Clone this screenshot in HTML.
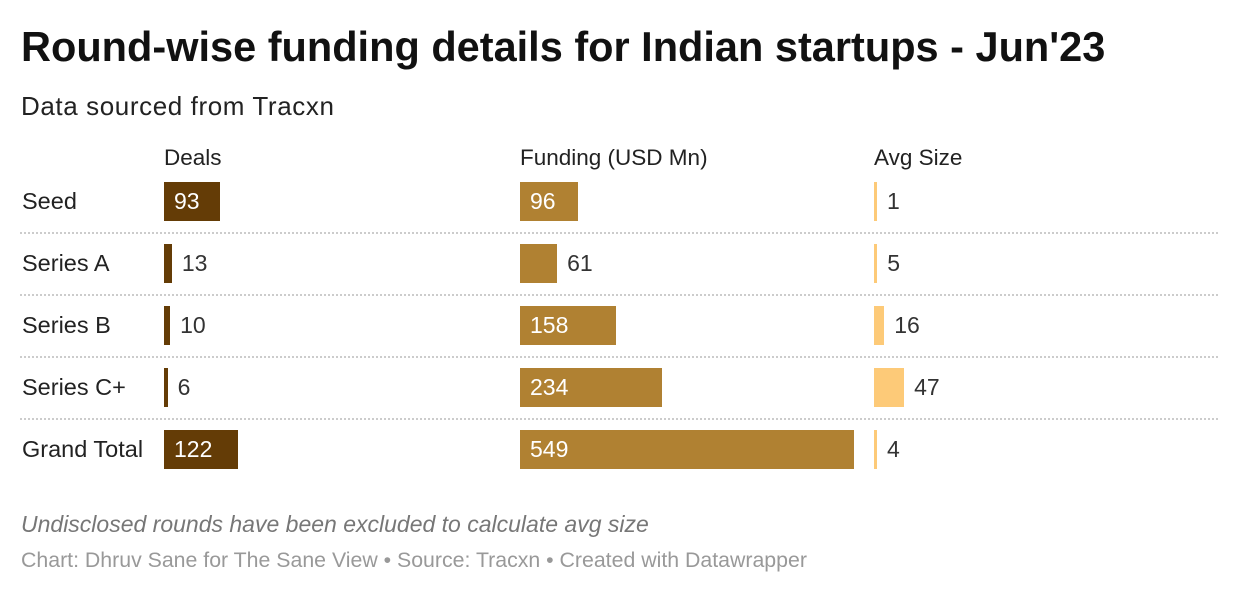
<!DOCTYPE html>
<html><head><meta charset="utf-8"><style>
body{margin:0;width:1240px;height:594px;background:#fff;font-family:"Liberation Sans",sans-serif;overflow:hidden;position:relative}
.t{position:absolute;white-space:nowrap}
</style></head><body>
<div class="t" style="left:21px;top:23px;font-size:41.5px;font-weight:bold;color:#111">Round-wise funding details for Indian startups - Jun'23</div>
<div class="t" style="left:21px;top:91px;font-size:26px;letter-spacing:0.6px;color:#222">Data sourced from Tracxn</div>
<div class="t" style="left:164px;top:145px;font-size:22.5px;color:#222">Deals</div>
<div class="t" style="left:520px;top:145px;font-size:22.5px;color:#222">Funding (USD Mn)</div>
<div class="t" style="left:874px;top:145px;font-size:22.5px;color:#222">Avg Size</div>
<div id="rows"></div>
<div class="t" style="left:21px;top:511px;font-size:23px;font-style:italic;color:#777">Undisclosed rounds have been excluded to calculate avg size</div>
<div class="t" style="left:21px;top:548px;font-size:21.3px;color:#999">Chart: Dhruv Sane for The Sane View • Source: Tracxn • Created with Datawrapper</div>
<script>
const categories=["Seed","Series A","Series B","Series C+","Grand Total"];
const deals=[93,13,10,6,122];
const funding=[96,61,158,234,549];
const avgSize=[1,5,16,47,4];
const cols=[{vals:deals,x:164,scale:0.607,color:"#643c06",name:"deals"},{vals:funding,x:520,scale:0.608,color:"#b08132",name:"funding"},{vals:avgSize,x:874,scale:0.64,color:"#fdca78",name:"avg-size"}];
const root=document.getElementById('rows');
function add(css,txt){const d=document.createElement('div');d.className='t';d.style.cssText=css;if(txt!==undefined)d.textContent=txt;root.appendChild(d);return d;}
categories.forEach((c,i)=>{
  const top=182+i*62;
  const l=add(`left:22px;top:${top+6}px;font-size:23.5px;color:#222`,c);
  
  
  if(i<categories.length-1){const s=add(`left:20px;top:${top+50}px;width:1198px;border-top:2px dotted #ccc`);
    
    }
  cols.forEach(col=>{
    const v=col.vals[i];const w=Math.max(3,v*col.scale);
    const b=add(`left:${col.x}px;top:${top}px;width:${w}px;height:39px;background:${col.color}`);
    
    
    const inside=w>40;
    const lb=add(`left:${inside?col.x+10:col.x+w+10}px;top:${top+6}px;font-size:23px;color:${inside?'#fff':'#333'}`,String(v));
    
    
  });
});
</script>
</body></html>
